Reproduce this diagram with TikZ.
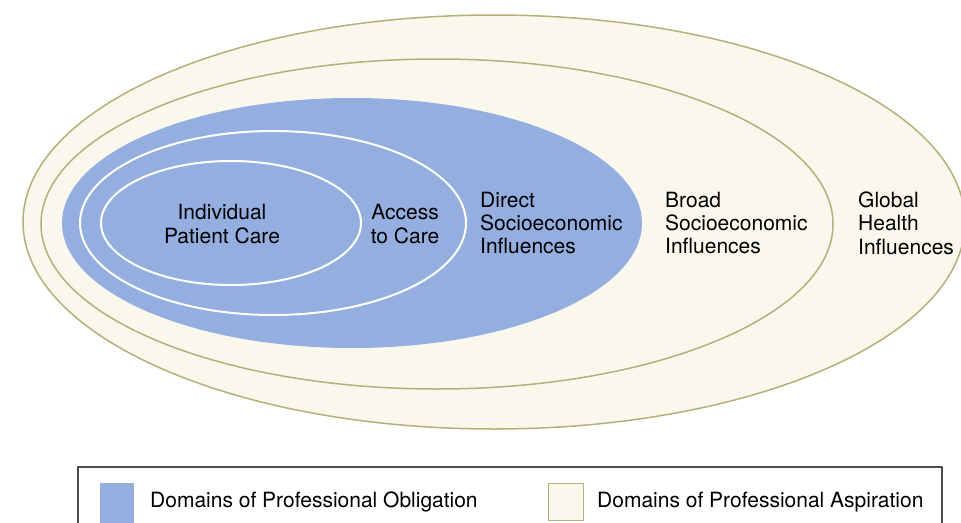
\documentclass[tikz,border=0pt]{standalone}
\usepackage{fontspec}
\setmainfont{TeX Gyre Heros}
\usetikzlibrary{positioning}
\definecolor{obligblue}{RGB}{148,174,224}
\definecolor{aspirecream}{RGB}{250,248,237}
\definecolor{aspireline}{RGB}{180,176,122}
\tikzset{
	aspire/.style={fill=aspirecream, draw=aspireline, line width=1.5pt},
	oblige/.style={fill=obligblue},
	ring/.style={draw=white, line width=2pt},
	domlabel/.style={inner sep=0pt, align=left, font=\fontsize{21}{23.5}\selectfont},
	swatch/.style={minimum width=34pt, minimum height=40pt, inner sep=0pt, anchor=north west}
}
\begin{document}
\begin{tikzpicture}[x=1pt, y=-1pt, line join=round, line cap=round]
	\useasboundingbox (0,0) rectangle (961,522);
	\clip (0,0) rectangle (961,522);
	% nested domains
	\draw[aspire] (494,222) ellipse (471 and 207);
	\draw[aspire] (437,224) ellipse (396 and 165);
	\fill[oblige] (352,223) ellipse (290 and 125);
	\draw[ring] (273,223) ellipse (193 and 92);
	\draw[ring] (231,223) ellipse (130 and 62);
	% labels
	\node[domlabel, align=center] (patient) at (222,224) {Individual\\Patient Care};
	\node[domlabel, align=center] (access) at (405,224) {Access\\to Care};
	\node[domlabel, anchor=west] (direct) at (480,223) {Direct\\Socioeconomic\\Influences};
	\node[domlabel, anchor=west] (broad) at (665,223) {Broad\\Socioeconomic\\Influences};
	\node[domlabel, anchor=west] (global) at (858,223) {Global\\Health\\Influences};
	% legend
	\draw[draw=black!70, line width=1.2pt, fill=white] (78,467) rectangle (942,540);
	\node[swatch, fill=obligblue] (obsw) at (100,483) {};
	\node[swatch, aspire, line width=1pt, minimum width=35pt, minimum height=37pt] (assw) at (548,483) {};
	\node[domlabel, anchor=west] (oblig) at (150,502) {Domains of Professional Obligation};
	\node[domlabel, anchor=west] (aspir) at (597,502) {Domains of Professional Aspiration};
\end{tikzpicture}
\end{document}
